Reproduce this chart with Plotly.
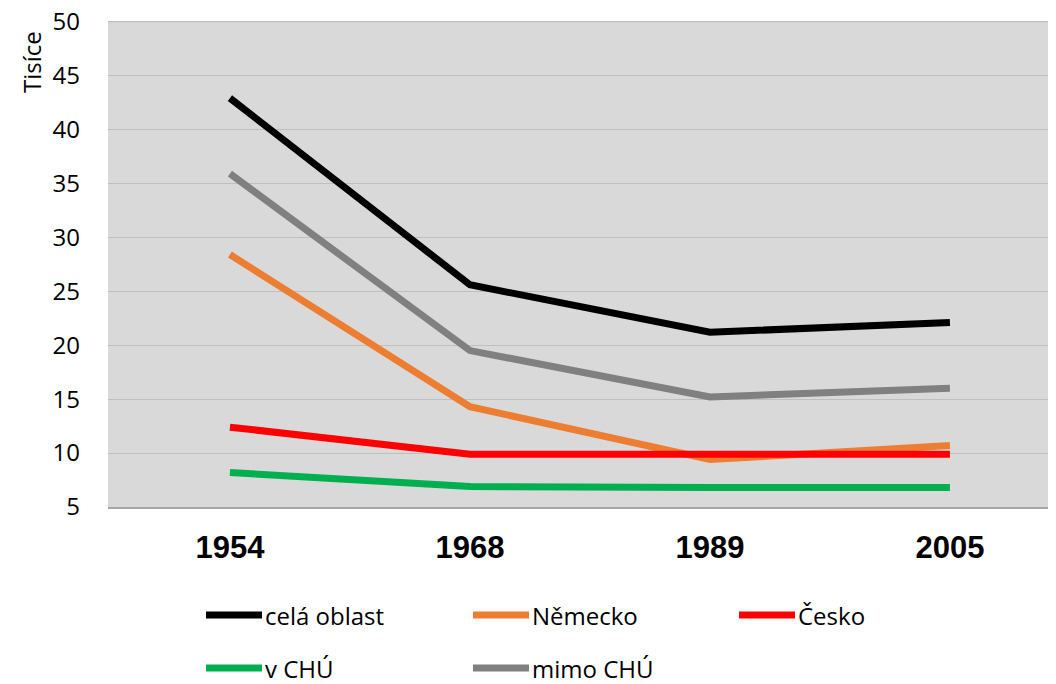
import plotly.graph_objects as go

years = ["1954", "1968", "1989", "2005"]
cela_oblast = [42.9, 25.6, 21.2, 22.1]
nemecko = [28.4, 14.3, 9.4, 10.7]
cesko = [12.4, 9.9, 9.9, 9.9]
v_chu = [8.2, 6.9, 6.8, 6.8]
mimo_chu = [35.9, 19.5, 15.2, 16.0]
y_ticks = [5, 10, 15, 20, 25, 30, 35, 40, 45, 50]

series = [
    ("celá oblast", cela_oblast, "#000000"),
    ("Německo", nemecko, "#ED7D31"),
    ("Česko", cesko, "#FF0000"),
    ("v CHÚ", v_chu, "#00B050"),
    ("mimo CHÚ", mimo_chu, "#808080"),
]
draw_order = [0, 4, 1, 2, 3]

fig = go.Figure()
for idx in draw_order:
    name, vals, col = series[idx]
    fig.add_trace(go.Scatter(x=years, y=vals, mode="lines", name=name,
                             line=dict(color=col, width=7), showlegend=False))

OFF = 8  # page body margin
W, H = 1056 - OFF, 684 - OFF
L, R, T, B = 108 - OFF, 0, 21 - OFF, 684 - 507
pw, ph = W - L - R, H - T - B

def px(x):
    return (x - OFF - L) / pw

def py(y):
    return (H - B - (y - OFF)) / ph

# top gridline (at the edge of the plot area)
shapes = [dict(type="line", xref="x domain", yref="y", x0=0, x1=1,
               y0=y_ticks[-1], y1=y_ticks[-1], layer="below",
               line=dict(color="#BFBFBF", width=1.5))]
annotations = []

# manual legend
leg_pos = [(205, 615), (472, 615), (738, 615), (205, 668), (472, 668)]
for (name, vals, col), (lx, ly) in zip(series, leg_pos):
    shapes.append(dict(type="line", xref="paper", yref="paper",
                       x0=px(lx + 1), x1=px(lx + 57), y0=py(ly), y1=py(ly),
                       line=dict(color=col, width=7)))
    annotations.append(dict(text=name, xref="paper", yref="paper",
                            x=px(lx + 58), y=py(ly), xanchor="left", yanchor="middle",
                            showarrow=False,
                            font=dict(family="Open Sans, Noto Sans", size=24, color="#000")))

annotations.append(dict(text="Tisíce", xref="paper", yref="paper",
                        x=px(31), y=py(62), textangle=-90, showarrow=False,
                        xanchor="center", yanchor="middle",
                        font=dict(family="Open Sans, Noto Sans", size=24, color="#000")))

fig.update_layout(
    width=W, height=H,
    margin=dict(l=L, r=R, t=T, b=B, pad=0, autoexpand=False),
    paper_bgcolor="white",
    plot_bgcolor="#D9D9D9",
    showlegend=False,
    shapes=shapes,
    annotations=annotations,
    xaxis=dict(type="category", range=[-0.508, 3.442], showgrid=False,
               showline=True, linecolor="#A6A6A6", linewidth=2,
               ticks="", ticklabelstandoff=12, automargin=False,
               tickfont=dict(family="Liberation Sans, Arial", size=31, color="#000",
                             weight="bold"),
               zeroline=False),
    yaxis=dict(range=[5, 50.05], tickvals=y_ticks, automargin=False,
               showgrid=True, gridcolor="#BFBFBF", gridwidth=1,
               showline=False, zeroline=False, ticks="", ticklabelstandoff=27,
               ticklabeloverflow="allow",
               tickfont=dict(family="Open Sans, Noto Sans", size=24, color="#000")),
)

fig.write_html("out.html")
